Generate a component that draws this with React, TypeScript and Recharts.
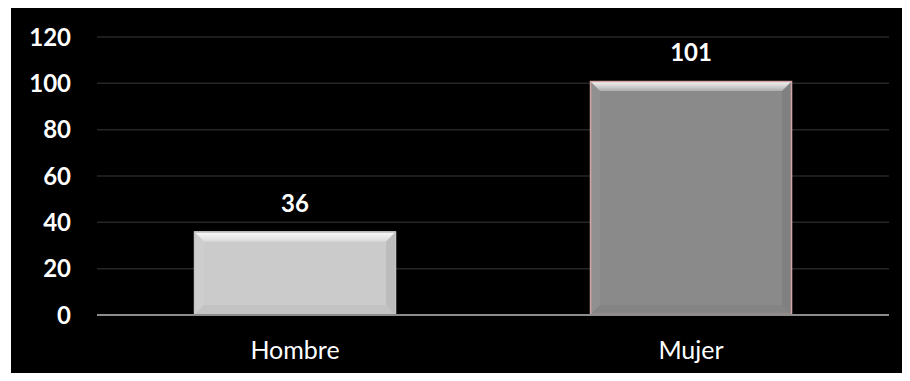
import { BarChart, Bar, XAxis, YAxis, CartesianGrid, LabelList, Cell } from "recharts";

const categories = ["Hombre", "Mujer"];
const counts = [36, 101];
const yTicks = [0, 20, 40, 60, 80, 100, 120];

const barFills = ["#cbcbcb", "#8a8a8a"];
const barEdges = ["#c4c4c4", "#d2a6a6"];

const data = categories.map((name, i) => ({ name, value: counts[i] }));

const FONT = "Lato, 'Open Sans', sans-serif";

// bar with a soft bevel, like the office chart style
function BevelBar(props: any) {
  const { x, y, width, height, index } = props;
  if (!height || height <= 0) return null;
  const b = Math.min(10, height / 3);
  const fill = barFills[index] ?? "#aaa";
  const edge = barEdges[index] ?? fill;
  return (
    <g>
      <rect x={x} y={y} width={width} height={height} fill={fill} />
      <polygon
        points={`${x},${y} ${x + width},${y} ${x + width - b},${y + b} ${x + b},${y + b}`}
        fill={`url(#bevelTop)`}
      />
      <polygon
        points={`${x},${y} ${x + b},${y + b} ${x + b},${y + height - b} ${x},${y + height}`}
        fill="rgba(255,255,255,0.06)"
      />
      <polygon
        points={`${x + width},${y} ${x + width - b},${y + b} ${x + width - b},${y + height - b} ${x + width},${y + height}`}
        fill="rgba(0,0,0,0.07)"
      />
      <polygon
        points={`${x},${y + height} ${x + b},${y + height - b} ${x + width - b},${y + height - b} ${x + width},${y + height}`}
        fill="rgba(0,0,0,0.04)"
      />
      <rect x={x + 0.5} y={y + 0.5} width={width - 1} height={height - 1} fill="none" stroke={edge} strokeWidth={1.5} />
    </g>
  );
}

export default function App() {
  return (
    <div style={{ margin: -8, width: 910, height: 381, background: "#fff", position: "relative", overflow: "hidden" }}>
      <div style={{ position: "absolute", left: 11, top: 7, width: 898, height: 374, background: "#000" }}>
        <BarChart
          width={898}
          height={374}
          data={data}
          margin={{ top: 30, right: 20, bottom: 0, left: 0 }}
          barCategoryGap="24.5%"
        >
          <defs>
            <linearGradient id="bevelTop" x1="0" y1="0" x2="0" y2="1">
              <stop offset="0%" stopColor="#ffffff" stopOpacity={0.95} />
              <stop offset="100%" stopColor="#ffffff" stopOpacity={0.3} />
            </linearGradient>
          </defs>
          <CartesianGrid vertical={false} stroke="#262626" strokeWidth={1.5} />
          <XAxis
            dataKey="name"
            height={66}
            tickLine={false}
            tickSize={0}
            tickMargin={26}
            axisLine={{ stroke: "#8c8c8c", strokeWidth: 2 }}
            tick={{ fill: "#ffffff", fontSize: 25, fontFamily: FONT }}
          />
          <YAxis
            width={86}
            domain={[0, 120]}
            ticks={yTicks}
            interval={0}
            axisLine={false}
            tickLine={false}
            tickSize={0}
            tickMargin={26}
            tick={{ fill: "#ffffff", fontSize: 24, fontWeight: "bold", fontFamily: FONT }}
          />
          <Bar dataKey="value" shape={<BevelBar />} isAnimationActive={false}>
            {data.map((d, i) => (
              <Cell key={d.name} fill={barFills[i]} />
            ))}
            <LabelList
              dataKey="value"
              position="top"
              offset={20}
              fill="#ffffff"
              fontSize={24}
              fontWeight="bold"
              fontFamily={FONT}
            />
          </Bar>
        </BarChart>
      </div>
    </div>
  );
}
